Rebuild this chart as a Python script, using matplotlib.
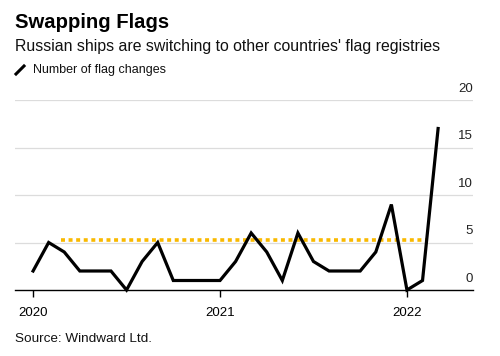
import matplotlib
matplotlib.use("Agg")
import matplotlib.pyplot as plt
import matplotlib.transforms as mtransforms
from matplotlib.lines import Line2D
import numpy as np

plt.rcParams['font.family'] = ['Liberation Sans', 'DejaVu Sans']

# Data: monthly flag changes, Jan 2020 - Mar 2022
months = list(range(27))
flag_changes = [2, 5, 4, 2, 2, 2, 0, 3, 5, 1, 1, 1,
                1, 3, 6, 4, 1, 6, 3, 2, 2, 2, 4, 9,
                0, 1, 17]
year_ticks = [0, 12, 24]
year_labels = ['2020', '2021', '2022']
yticks = [0, 5, 10, 15, 20]
ref_level = 5.28
ref_span = [1.8, 25.35]

fig = plt.figure(figsize=(5.0, 3.56), dpi=100)
ax = fig.add_axes([15/500, 1 - 290/356, (473-15)/500, (290-100)/356])

ax.set_xlim(-1.16, 28.24)
ax.set_ylim(0, 20)

for v in yticks:
    if v == 0:
        continue
    ax.axhline(v, color='#dcdcdc', lw=0.9, zorder=1)
ax.axhline(0, color='black', lw=1.0, zorder=4, clip_on=False)

ax.plot(ref_span, [ref_level, ref_level], color='#f9b900', lw=2.6,
        ls=(0, (1.1, 1.0)), dash_capstyle='butt', zorder=2)
ax.plot(months, flag_changes, color='black', lw=2.3, zorder=3,
        solid_joinstyle='miter', clip_on=False)

for s in ax.spines.values():
    s.set_visible(False)
ax.set_yticks([])
ax.set_xticks(year_ticks)
ax.set_xticklabels(year_labels, fontsize=9.5)
ax.tick_params(axis='x', length=5, width=1.0, color='black', pad=7, direction='out')

trans = mtransforms.blended_transform_factory(ax.transAxes, ax.transData)
offset = mtransforms.ScaledTranslation(0, 3.8/72, fig.dpi_scale_trans)
for v in yticks:
    ax.text(1.0, v, str(v), transform=trans + offset, ha='right', va='bottom',
            fontsize=9.5, color='#222222')

fig.text(15/500, 1 - 22/356, 'Swapping Flags', fontsize=14.6, fontweight='bold',
         ha='left', va='center')
fig.text(15/500, 1 - 46/356, "Russian ships are switching to other countries' flag registries",
         fontsize=11.4, ha='left', va='center', color='#111111')
# legend icon
fig.add_artist(Line2D([16/500, 24/500], [1 - 74/356, 1 - 66/356], color='black', lw=2.2,
                      transform=fig.transFigure))
fig.text(33/500, 1 - 70/356, 'Number of flag changes', fontsize=9.0, ha='left', va='center',
         color='#111111')
fig.text(15/500, 1 - 339/356, 'Source: Windward Ltd.', fontsize=9.7, ha='left', va='center',
         color='#111111')

fig.savefig('out.png', dpi=100, facecolor='white')
